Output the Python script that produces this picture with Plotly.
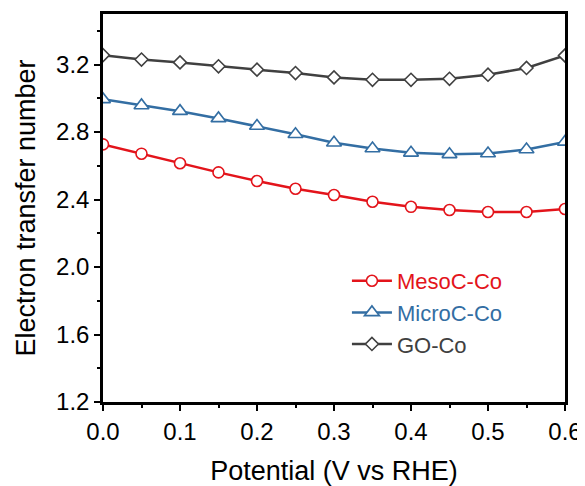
import plotly.graph_objects as go

potential = [0.0, 0.05, 0.1, 0.15, 0.2, 0.25, 0.3, 0.35, 0.4, 0.45, 0.5, 0.55, 0.6]
meso = [2.727, 2.672, 2.615, 2.561, 2.510, 2.464, 2.427, 2.387, 2.357, 2.338, 2.326, 2.326, 2.344]
micro = [2.994, 2.958, 2.924, 2.881, 2.836, 2.787, 2.737, 2.703, 2.677, 2.668, 2.673, 2.697, 2.742]
go_co = [3.256, 3.230, 3.213, 3.190, 3.170, 3.150, 3.124, 3.110, 3.110, 3.116, 3.140, 3.180, 3.254]

series = [
    ("MesoC-Co", meso, "#e3141b", "circle", 11),
    ("MicroC-Co", micro, "#336ea3", "triangle-up", 13),
    ("GO-Co", go_co, "#404040", "diamond", 10),
]

FONT = "Liberation Sans, Arial"

fig = go.Figure()
for name, ys, color, sym, size in series:
    fig.add_trace(go.Scatter(
        x=potential, y=ys, mode="lines+markers",
        name=f"<span style='color:{color}'>{name}</span>",
        line=dict(color=color, width=2.5),
        marker=dict(symbol=sym, size=size, color="white",
                    line=dict(color=color, width=1.6)),
        cliponaxis=True,
    ))

axis_common = dict(
    showline=True, linecolor="black", linewidth=2.5, mirror=True,
    ticks="outside", tickwidth=2, ticklen=6, tickcolor="black",
    showgrid=False, zeroline=False, automargin=False,
    tickfont=dict(family=FONT, size=24, color="black"),
)

fig.update_xaxes(
    range=[0, 0.6], dtick=0.1, tickformat=".1f",
    minor=dict(dtick=0.05, ticks="outside", ticklen=3, tickwidth=2, tickcolor="black"),
    title=dict(text="Potential (V vs RHE)", font=dict(family=FONT, size=27, color="black"), standoff=18),
    **axis_common,
)
fig.update_yaxes(
    range=[1.2, 3.5], tick0=1.2, dtick=0.4, tickformat=".1f",
    minor=dict(dtick=0.2, ticks="outside", ticklen=3, tickwidth=2, tickcolor="black"),
    title=dict(text="Electron transfer number", font=dict(family=FONT, size=27, color="black"), standoff=13),
    **axis_common,
)

# page body has an 8px margin, so the figure is sized/offset to compensate
fig.update_layout(
    width=577, height=478,
    margin=dict(l=95, r=20, t=6, b=84),
    plot_bgcolor="white", paper_bgcolor="white",
    legend=dict(x=0.528, y=0.366, xanchor="left", yanchor="top",
                font=dict(family=FONT, size=22),
                bgcolor="rgba(0,0,0,0)", itemwidth=40, tracegroupgap=0),
    showlegend=True,
)

fig.write_html("out.html")
